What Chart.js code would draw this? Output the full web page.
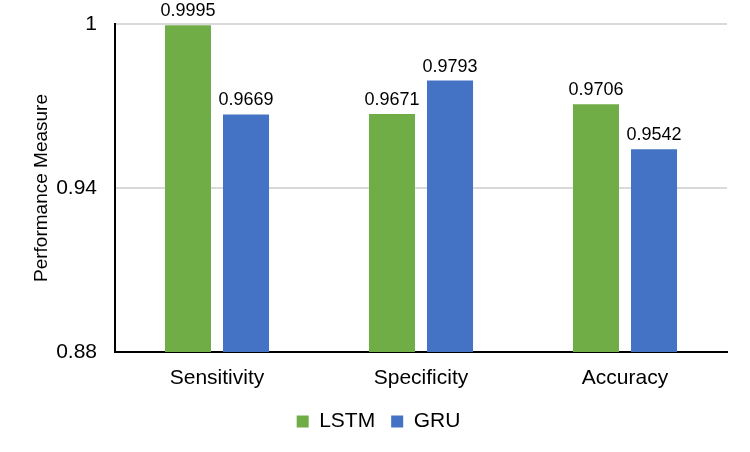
<!DOCTYPE html>
<html>
<head>
<meta charset="utf-8">
<script src="https://cdn.jsdelivr.net/npm/chart.js@4.4.0/dist/chart.umd.min.js"></script>
<style>
  html, body { margin: 0; padding: 0; background: #fff; }
  #wrap { width: 750px; height: 452px; }
</style>
</head>
<body>
<div id="wrap"><canvas id="perfChart" width="750" height="452"></canvas></div>
<script>
// chart data
var categories = ["Sensitivity", "Specificity", "Accuracy"];
var lstmValues = [0.9995, 0.9671, 0.9706];
var gruValues = [0.9669, 0.9793, 0.9542];
var yTicks = [0.88, 0.94, 1];

var FONT = "'Liberation Sans', Arial, sans-serif";

// 막대 위에 값 표시 (datalabels 플러그인 대신)
var barLabels = {
    id: "barLabels",
    afterDatasetsDraw: function (chart) {
        var ctx = chart.ctx;
        ctx.save();
        ctx.font = "18px " + FONT;
        ctx.fillStyle = "#000";
        ctx.textAlign = "center";
        ctx.textBaseline = "bottom";
        chart.data.datasets.forEach(function (ds, i) {
            chart.getDatasetMeta(i).data.forEach(function (bar, j) {
                ctx.fillText(ds.data[j].toFixed(4), bar.x, bar.y - 5);
            });
        });
        ctx.restore();
    }
};

var ctx = document.getElementById("perfChart").getContext("2d");
var perfChart = new Chart(ctx, {
    type: "bar",
    data: {
        labels: categories,
        datasets: [
            { label: "LSTM", data: lstmValues, backgroundColor: "#70AD47" },
            { label: "GRU", data: gruValues, backgroundColor: "#4472C4" }
        ]
    },
    options: {
        responsive: false,
        animation: false,
        devicePixelRatio: 1,
        layout: { padding: { left: 30, right: 23, top: 24, bottom: 10 } },
        datasets: { bar: { barPercentage: 0.793, categoryPercentage: 0.569 } },
        plugins: {
            legend: {
                position: "bottom",
                labels: {
                    boxWidth: 12,
                    boxHeight: 12,
                    padding: 16,
                    color: "#000",
                    font: { family: FONT, size: 21 }
                }
            },
            tooltip: { enabled: false }
        },
        scales: {
            x: {
                grid: { display: false, drawTicks: false },
                border: { color: "#000", width: 2 },
                ticks: {
                    color: "#000",
                    padding: 14,
                    font: { family: FONT, size: 21 }
                },
                afterFit: function (axis) { axis.height = 43; }
            },
            y: {
                min: 0.88,
                max: 1,
                afterBuildTicks: function (axis) {
                    axis.ticks = yTicks.map(function (v) { return { value: v }; });
                },
                afterFit: function (axis) {
                    axis.width = 85;
                    axis.paddingTop = 0;
                    axis.paddingBottom = 0;
                },
                grid: { color: "#d9d9d9", lineWidth: 2, drawTicks: false },
                border: { color: "#000", width: 2 },
                ticks: {
                    color: "#000",
                    padding: 18,
                    font: { family: FONT, size: 21 },
                    callback: function (v) { return String(Math.round(v * 100) / 100); }
                },
                title: {
                    display: true,
                    text: "Performance Measure",
                    color: "#000",
                    padding: { top: 0, bottom: 0 },
                    font: { family: FONT, size: 19 }
                }
            }
        }
    },
    plugins: [barLabels]
});
</script>
</body>
</html>
